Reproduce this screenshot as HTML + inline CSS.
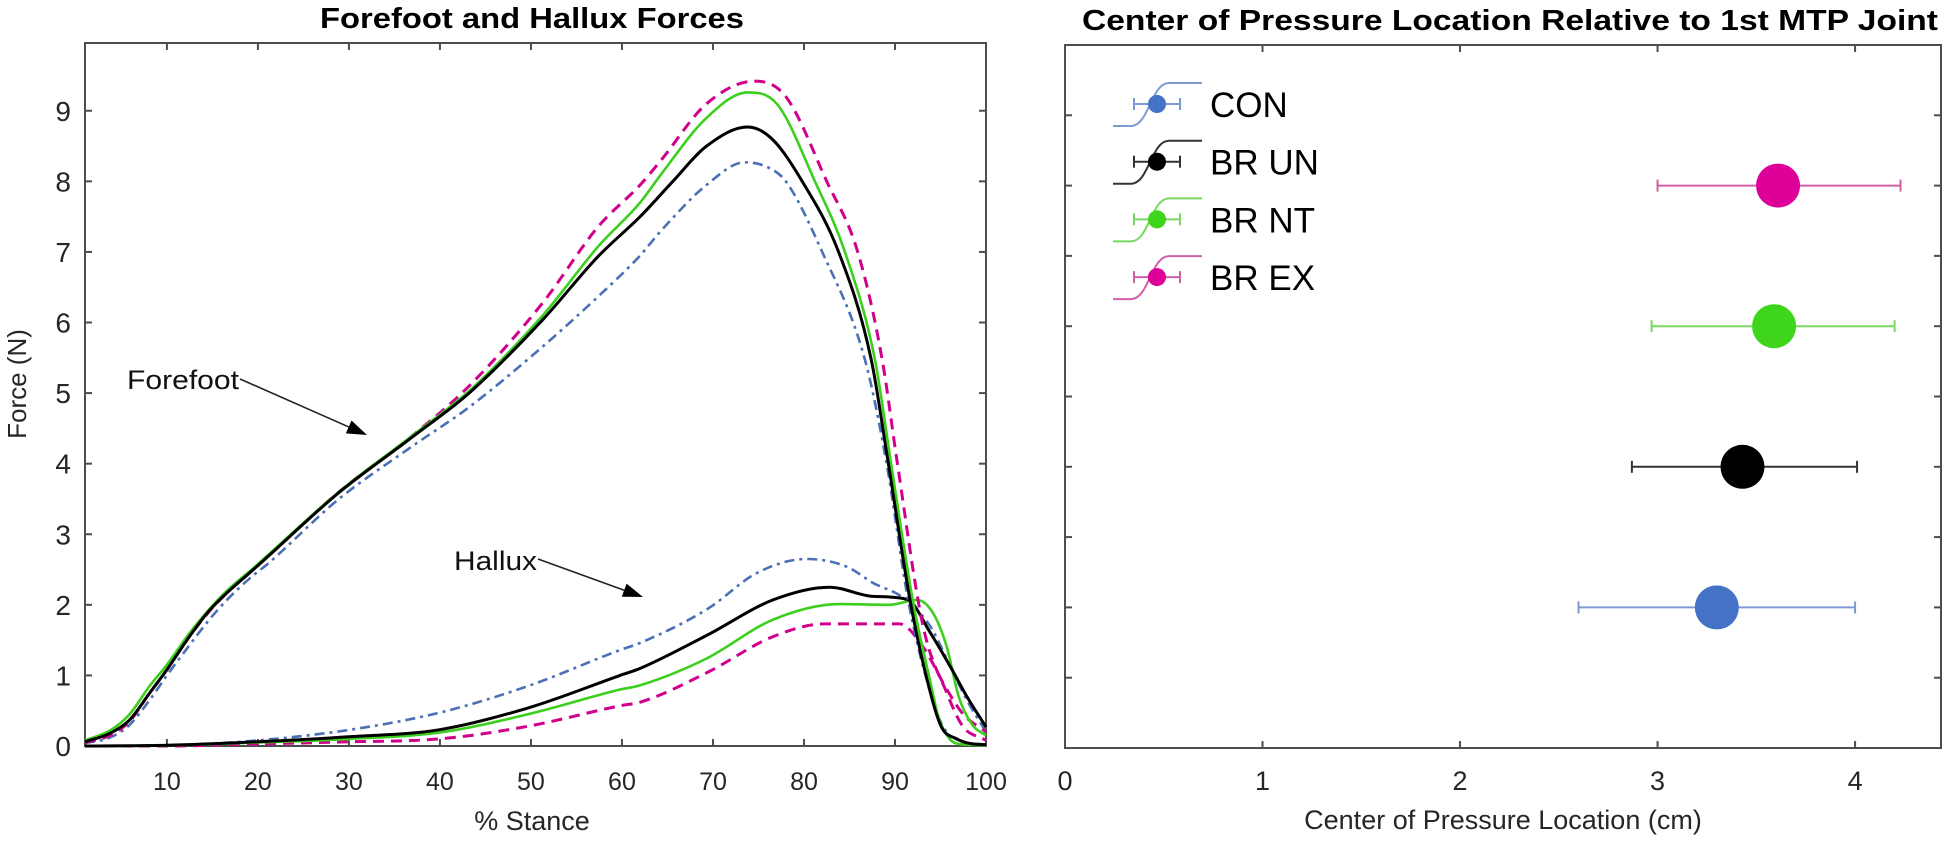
<!DOCTYPE html>
<html><head><meta charset="utf-8"><style>
html,body{margin:0;padding:0;background:#fff;}
svg{display:block;font-family:"Liberation Sans",Arial,sans-serif;}
</style></head><body>
<svg id="fig" width="1944" height="843" viewBox="0 0 1944 843">
<g id="left"></g>
<g id="right"></g>
</svg>
<script>
// ---- Left chart data ----
const ffBlackX=[1,3.75,5.9,8.1,10,12.2,14.4,16.6,19.5,20.8,28.9,37,43.2,51.3,57.4,62,65.6,69.3,73.8,76.5,79.8,83.8,87.4,89.2,91.7,93.9,95.1,96.8,98.5,100];
const ffBlackY=[0.06,0.18,0.37,0.75,1.08,1.5,1.88,2.17,2.5,2.65,3.59,4.38,5.0,6.04,6.94,7.5,8.0,8.5,8.77,8.6,8.0,7.0,5.47,4.06,2.03,0.75,0.27,0.1,0.03,0.02];
const ffBlueX=[1,3.75,5.9,8.1,10,12.2,14.4,16.6,19.5,20.8,28.9,37,43.2,51.3,57.4,62,64.3,69.3,73.5,76,78,82,86.7,89,91.5,93.9,95.3,97,100];
const ffBlueY=[0.04,0.12,0.3,0.65,1.0,1.38,1.75,2.07,2.42,2.55,3.5,4.25,4.8,5.66,6.37,6.95,7.3,7.95,8.27,8.2,8.0,7.0,5.47,4.06,2.03,0.75,0.27,0.08,0.02];
const ffGreenX=[1,3.75,5.9,8.1,10,12.2,14.4,16.6,19.5,20.8,28.9,37,43.2,51.3,57.4,62,64.3,69.3,73.8,77,81.2,84.5,87.8,89.5,92,93.9,94.8,96,97,100];
const ffGreenY=[0.08,0.22,0.45,0.85,1.15,1.55,1.9,2.2,2.52,2.67,3.6,4.4,5.03,6.1,7.08,7.7,8.1,8.9,9.26,9.1,8.0,7.0,5.47,4.06,2.03,0.9,0.4,0.1,0.03,0.01];
const ffMagX=[1,3.75,5.9,8.1,10,12.2,14.4,16.6,19.5,20.8,28.9,37,43.2,51.3,57.4,62,64.3,69.3,74.6,78,82.5,85.9,88.6,90.2,93.1,95.7,97.5,99.7,100];
const ffMagY=[0.05,0.15,0.35,0.75,1.08,1.5,1.87,2.17,2.5,2.65,3.6,4.4,5.1,6.28,7.36,7.95,8.3,9.1,9.42,9.2,8.0,7.0,5.47,4.06,1.69,0.75,0.27,0.1,0.08];
const hxBlackX=[1,10,20,30,39.9,49.7,59.8,62,69.5,76.6,82.8,87.6,91.3,93.9,96.1,97.9,100];
const hxBlackY=[0,0.01,0.06,0.13,0.23,0.54,1.0,1.1,1.58,2.07,2.25,2.12,2.08,1.6,1.12,0.7,0.27];
const hxBlueX=[1,10,20,30.1,39.9,49.7,59.8,62,69.5,74.8,80.3,84.7,87.6,90.9,93.9,96.1,97.9,100];
const hxBlueY=[0,0.01,0.08,0.23,0.47,0.85,1.36,1.46,1.95,2.45,2.65,2.54,2.31,2.1,1.69,1.12,0.65,0.2];
const hxGreenX=[1,10,20,30,39.9,49.7,59.8,62,69.3,76.6,83.9,89.4,92.4,94.2,95.7,97,98.5,100];
const hxGreenY=[0,0.01,0.05,0.1,0.19,0.45,0.8,0.86,1.24,1.79,2.01,2.0,2.07,1.88,1.4,0.7,0.3,0.15];
const hxMagX=[1,10,20,30.1,39.9,49.7,59.8,62,69.5,76.6,82.3,90.5,93.1,95.7,97.5,100];
const hxMagY=[0,0,0.03,0.06,0.1,0.28,0.57,0.62,1.05,1.55,1.73,1.73,1.4,0.8,0.45,0.2];
const leftXTicks=[10,20,30,40,50,60,70,80,90,100];
const leftYTicks=[0,1,2,3,4,5,6,7,8,9];
// ---- Right chart data ----
const groups=["CON","BR UN","BR NT","BR EX"];
const copMean=[3.30,3.43,3.59,3.61];
const copLow=[2.60,2.87,2.97,3.00];
const copHigh=[4.00,4.01,4.20,4.23];
const copRow=[2,4,6,8];
const rightXTicks=[0,1,2,3,4];
const rightYTicks=[1,2,3,4,5,6,7,8,9];

const NS="http://www.w3.org/2000/svg";
function mk(parent,tag,attrs,text){const e=document.createElementNS(NS,tag);for(const k in attrs)e.setAttribute(k,attrs[k]);if(text!==undefined)e.textContent=text;parent.appendChild(e);return e;}
const AX='#4d4d4d';
const L={x0:85,x1:986,y0:746,y1:43,xmin:1,xmax:100,ymin:0,ymax:9.96};
const lx=v=>L.x0+(v-L.xmin)/(L.xmax-L.xmin)*(L.x1-L.x0);
const ly=v=>L.y0-(v-L.ymin)/(L.ymax-L.ymin)*(L.y0-L.y1);
const R={x0:1065,x1:1941,y0:748,y1:45,xmin:0,xmax:4.435,ymin:0,ymax:10};
const rx=v=>R.x0+(v-R.xmin)/(R.xmax-R.xmin)*(R.x1-R.x0);
const ry=v=>R.y0-(v-R.ymin)/(R.ymax-R.ymin)*(R.y0-R.y1);

const gl=document.getElementById('left');
const gr=document.getElementById('right');

// monotone cubic (Fritsch-Carlson) in data space, emitted as bezier in pixel space
function smoothPath(xs,ys,fx,fy){
  const n=xs.length,d=[],m=[];
  for(let i=0;i<n-1;i++)d.push((ys[i+1]-ys[i])/(xs[i+1]-xs[i]));
  m[0]=d[0];m[n-1]=d[n-2];
  for(let i=1;i<n-1;i++){m[i]=(d[i-1]*d[i]<=0)?0:(d[i-1]+d[i])/2;}
  for(let i=0;i<n-1;i++){
    if(d[i]===0){m[i]=0;m[i+1]=0;continue;}
    const a=m[i]/d[i],b=m[i+1]/d[i],s=a*a+b*b;
    if(s>9){const t=3/Math.sqrt(s);m[i]=t*a*d[i];m[i+1]=t*b*d[i];}
  }
  let p=`M${fx(xs[0]).toFixed(1)},${fy(ys[0]).toFixed(1)}`;
  for(let i=0;i<n-1;i++){
    const h=xs[i+1]-xs[i];
    const c1x=xs[i]+h/3,c1y=ys[i]+m[i]*h/3,c2x=xs[i+1]-h/3,c2y=ys[i+1]-m[i+1]*h/3;
    p+=`C${fx(c1x).toFixed(1)},${fy(c1y).toFixed(1)} ${fx(c2x).toFixed(1)},${fy(c2y).toFixed(1)} ${fx(xs[i+1]).toFixed(1)},${fy(ys[i+1]).toFixed(1)}`;
  }
  return p;
}

let e=mk(gl,'rect',{x:L.x0,y:L.y1,width:L.x1-L.x0,height:L.y0-L.y1,fill:'none',stroke:AX,'stroke-width':2});

leftXTicks.forEach(v=>{
  const x=lx(v);
  mk(gl,'line',{x1:x,x2:x,y1:L.y0,y2:L.y0-7,stroke:AX,'stroke-width':2});
  mk(gl,'line',{x1:x,x2:x,y1:L.y1,y2:L.y1+7,stroke:AX,'stroke-width':2});
  const t=mk(gl,'text',{x:x,y:790,'font-size':25,'text-anchor':'middle',fill:'#262626'},String(v));
  
  
});
leftYTicks.forEach(v=>{
  const y=ly(v);
  mk(gl,'line',{x1:L.x0,x2:L.x0+7,y1:y,y2:y,stroke:AX,'stroke-width':2});
  mk(gl,'line',{x1:L.x1,x2:L.x1-7,y1:y,y2:y,stroke:AX,'stroke-width':2});
  const t=mk(gl,'text',{x:71,y:y+10,'font-size':28,'text-anchor':'end',fill:'#262626'},String(v));
  
  
});
e=mk(gl,'text',{x:532,y:28,'font-size':29,'font-weight':'bold','text-anchor':'middle',textLength:424,lengthAdjust:'spacingAndGlyphs',fill:'#000'},'Forefoot and Hallux Forces');

e=mk(gl,'text',{x:532,y:830,'font-size':27,'text-anchor':'middle',fill:'#262626'},'% Stance');

e=mk(gl,'text',{x:0,y:0,'font-size':26,'text-anchor':'middle',fill:'#262626',transform:'translate(26,384) rotate(-90)'},'Force (N)');


const styles={
  blue:{stroke:'#4b70b5','stroke-width':2.6,'stroke-dasharray':'10,5,3,5'},
  black:{stroke:'#000','stroke-width':3},
  green:{stroke:'#3ccf1e','stroke-width':2.6},
  mag:{stroke:'#d1008c','stroke-width':3,'stroke-dasharray':'11,7'}
};
const series=[
  ['hallux-con-line',hxBlueX,hxBlueY,'blue'],['hallux-br-ex-line',hxMagX,hxMagY,'mag'],['hallux-br-nt-line',hxGreenX,hxGreenY,'green'],['hallux-br-un-line',hxBlackX,hxBlackY,'black'],
  ['forefoot-con-line',ffBlueX,ffBlueY,'blue'],['forefoot-br-ex-line',ffMagX,ffMagY,'mag'],['forefoot-br-nt-line',ffGreenX,ffGreenY,'green'],['forefoot-br-un-line',ffBlackX,ffBlackY,'black']
];
series.forEach(s=>{
  const p=mk(gl,'path',Object.assign({d:smoothPath(s[1],s[2],lx,ly),fill:'none','stroke-linejoin':'round'},styles[s[3]]));
  
  
});
function arrow(x1,y1,x2,y2,name){
  const g=mk(gl,'g',{});
  
  const a=Math.atan2(y2-y1,x2-x1),L2=20,W=7;
  const bx=x2-L2*Math.cos(a),by=y2-L2*Math.sin(a);
  mk(g,'line',{x1:x1,y1:y1,x2:bx,y2:by,stroke:'#222','stroke-width':1.6});
  mk(g,'polygon',{points:`${x2},${y2} ${bx+W*Math.sin(a)},${by-W*Math.cos(a)} ${bx-W*Math.sin(a)},${by+W*Math.cos(a)}`,fill:'#000'});
}
e=mk(gl,'text',{x:127,y:389,'font-size':27,fill:'#111',textLength:112,lengthAdjust:'spacingAndGlyphs'},'Forefoot');

arrow(240,379,367,435,'forefoot-arrow');
e=mk(gl,'text',{x:454,y:570,'font-size':27,fill:'#111',textLength:83,lengthAdjust:'spacingAndGlyphs'},'Hallux');

arrow(538,559,643,597,'hallux-arrow');

e=mk(gr,'rect',{x:R.x0,y:R.y1,width:R.x1-R.x0,height:R.y0-R.y1,fill:'none',stroke:AX,'stroke-width':2});

rightXTicks.forEach(v=>{
  const x=rx(v);
  mk(gr,'line',{x1:x,x2:x,y1:R.y0,y2:R.y0-7,stroke:AX,'stroke-width':2});
  mk(gr,'line',{x1:x,x2:x,y1:R.y1,y2:R.y1+7,stroke:AX,'stroke-width':2});
  const t=mk(gr,'text',{x:x,y:790,'font-size':27,'text-anchor':'middle',fill:'#262626'},String(v));
  
  
});
rightYTicks.forEach(v=>{
  const y=ry(v);
  mk(gr,'line',{x1:R.x0,x2:R.x0+7,y1:y,y2:y,stroke:AX,'stroke-width':2});
  mk(gr,'line',{x1:R.x1,x2:R.x1-7,y1:y,y2:y,stroke:AX,'stroke-width':2});
});
e=mk(gr,'text',{x:1082,y:30,'font-size':29,'font-weight':'bold',fill:'#000',textLength:856,lengthAdjust:'spacingAndGlyphs'},'Center of Pressure Location Relative to 1st MTP Joint');

e=mk(gr,'text',{x:1503,y:829,'font-size':27,'text-anchor':'middle',fill:'#262626'},'Center of Pressure Location (cm)');


const colors=['#4472c4','#000000','#3fd51a','#dd0099'];
const barColors=['#7d9bd2','#333333','#78d860','#d060a8'];
const slugs=['con','br-un','br-nt','br-ex'];
groups.forEach((g,i)=>{
  const y=ry(copRow[i]);
  const eb=mk(gr,'g',{});
  
  
  const xl=rx(copLow[i]),xh=rx(copHigh[i]);
  mk(eb,'line',{x1:xl,x2:xh,y1:y,y2:y,stroke:barColors[i],'stroke-width':2});
  mk(eb,'line',{x1:xl,x2:xl,y1:y-6,y2:y+6,stroke:barColors[i],'stroke-width':2});
  mk(eb,'line',{x1:xh,x2:xh,y1:y-6,y2:y+6,stroke:barColors[i],'stroke-width':2});
  const c=mk(gr,'circle',{cx:rx(copMean[i]),cy:y,r:22,fill:colors[i]});
  
  
  const ly0=104+i*57.7, lx0=1157;
  const le=mk(gr,'g',{});
  
  
  mk(le,'path',{d:`M${lx0-44},${ly0+22} H${lx0-26} C${lx0-8},${ly0+22} ${lx0-6},${ly0-21} ${lx0+12},${ly0-21} H${lx0+45}`,fill:'none',stroke:barColors[i],'stroke-width':2});
  mk(le,'line',{x1:lx0-23,x2:lx0+23,y1:ly0,y2:ly0,stroke:barColors[i],'stroke-width':2});
  mk(le,'line',{x1:lx0-23,x2:lx0-23,y1:ly0-6,y2:ly0+6,stroke:barColors[i],'stroke-width':2});
  mk(le,'line',{x1:lx0+23,x2:lx0+23,y1:ly0-6,y2:ly0+6,stroke:barColors[i],'stroke-width':2});
  mk(le,'circle',{cx:lx0,cy:ly0,r:9,fill:colors[i]});
  mk(le,'text',{x:1210,y:ly0+13,'font-size':35,fill:'#000'},g);
});
</script>
</body></html>
